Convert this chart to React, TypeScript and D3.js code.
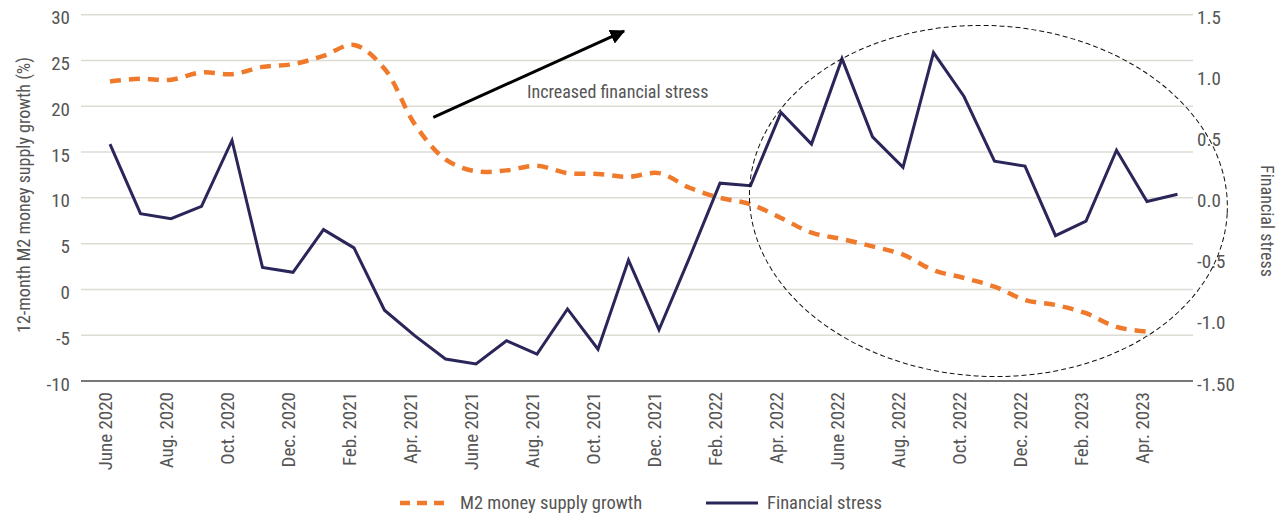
import * as d3 from "d3";

const WIDTH = 1278;
const HEIGHT = 516;
const PLOT = { left: 81, right: 1193, top: 14.7, bottom: 381 };
const FIRST_X = 110;
const LAST_X = 1177.5;

const FONT = "'Liberation Sans Narrow', 'Roboto Condensed', 'Arial Narrow', Roboto, sans-serif";
const TEXT = "#555555";
const ORANGE = "#ef7a2c";
const NAVY = "#2a2659";
const GRID = "#dcdcd4";

const months = [
  "June 2020", "July 2020", "Aug. 2020", "Sept. 2020", "Oct. 2020", "Nov. 2020",
  "Dec. 2020", "Jan. 2021", "Feb. 2021", "Mar. 2021", "Apr. 2021", "May 2021",
  "June 2021", "July 2021", "Aug. 2021", "Sept. 2021", "Oct. 2021", "Nov. 2021",
  "Dec. 2021", "Jan. 2022", "Feb. 2022", "Mar. 2022", "Apr. 2022", "May 2022",
  "June 2022", "July 2022", "Aug. 2022", "Sept. 2022", "Oct. 2022", "Nov. 2022",
  "Dec. 2022", "Jan. 2023", "Feb. 2023", "Mar. 2023", "Apr. 2023", "May 2023",
];

// 12-month M2 growth (%), left axis
const m2Growth = [
  22.7, 23.0, 22.9, 23.7, 23.5, 24.3, 24.6, 25.5, 26.7, 24.1, 18.0, 14.2,
  12.9, 13.0, 13.5, 12.7, 12.6, 12.3, 12.7, 11.1, 10.0, 9.3, 7.8, 6.2,
  5.5, 4.7, 3.8, 2.1, 1.25, 0.3, -1.15, -1.7, -2.6, -4.1, -4.6,
];

// Financial stress index, right axis
const financialStress = [
  0.44, -0.13, -0.17, -0.07, 0.47, -0.57, -0.61, -0.26, -0.41, -0.92, -1.13, -1.32,
  -1.36, -1.17, -1.28, -0.91, -1.24, -0.51, -1.08, -0.49, 0.12, 0.1, 0.7, 0.44,
  1.14, 0.5, 0.25, 1.19, 0.83, 0.3, 0.26, -0.31, -0.19, 0.39, -0.03, 0.03,
];

const leftTicks = [30, 25, 20, 15, 10, 5, 0, -5, -10];
const rightTicks = [1.5, 1.0, 0.5, 0.0, -0.5, -1.0, -1.5];
const rightTickLabels = ["1.5", "1.0", "0.5", "0.0", "-0.5", "-1.0", "-1.50"];

// annotation anchors in data space (month index, left-axis value)
const arrowFrom = { i: 10.6, v: 18.8 };
const arrowTo = { i: 16.85, v: 28.2 };
const noteAt = { i: 13.67, v: 20.9 };
const circleAt = { i: 28.8, v: 9.66, ri: 7.84, rv: 19.15 };

export default function App() {
  const x = d3.scaleLinear().domain([0, months.length - 1]).range([FIRST_X, LAST_X]);
  const yLeft = d3.scaleLinear().domain([-10, 30]).range([PLOT.bottom, PLOT.top]);
  const yRight = d3.scaleLinear().domain([-1.5, 1.5]).range([PLOT.bottom, PLOT.top]);

  const m2Line = d3
    .line<number>()
    .x((_, i) => x(i))
    .y((d) => yLeft(d))
    .curve(d3.curveCatmullRom.alpha(0.5));

  const stressLine = d3
    .line<number>()
    .x((_, i) => x(i))
    .y((d) => yRight(d));

  const ax1 = x(arrowFrom.i);
  const ay1 = yLeft(arrowFrom.v);
  const ax2 = x(arrowTo.i);
  const ay2 = yLeft(arrowTo.v);

  const cx = x(circleAt.i);
  const cy = yLeft(circleAt.v);
  const rx = x(circleAt.ri) - x(0);
  const ry = yLeft(0) - yLeft(circleAt.rv);

  return (
    <div style={{ position: "absolute", left: 0, top: 0 }}>
      <svg width={WIDTH} height={HEIGHT} style={{ display: "block", fontFamily: FONT }}>
        <defs>
          <marker id="arrowHead" viewBox="0 0 10 10" refX="9" refY="5" markerWidth="5" markerHeight="5" orient="auto">
            <path d="M0,0 L10,5 L0,10 z" fill="#000" />
          </marker>
        </defs>

        {/* gridlines */}
        {leftTicks.slice(0, -1).map((t) => (
          <line key={t} x1={PLOT.left} x2={PLOT.right} y1={yLeft(t)} y2={yLeft(t)} stroke={GRID} strokeWidth={1.5} />
        ))}
        <line x1={PLOT.left} x2={PLOT.right} y1={yLeft(-10)} y2={yLeft(-10)} stroke="#4a4a4a" strokeWidth={1.5} />

        {/* left axis labels */}
        {leftTicks.map((t) => (
          <text key={t} x={70} y={yLeft(t)} dy="0.5em" textAnchor="end" fontSize={19} fill={TEXT}>
            {t}
          </text>
        ))}

        {/* right axis labels */}
        {rightTicks.map((t, k) => (
          <text key={t} x={1197} y={yRight(t)} dy="0.5em" textAnchor="start" fontSize={19} fill={TEXT}>
            {rightTickLabels[k]}
          </text>
        ))}

        {/* x labels */}
        {months.map((m, i) =>
          i % 2 === 0 ? (
            <text
              key={m}
              transform={`translate(${x(i) - 5},392) rotate(-90)`}
              dy="0.35em"
              textAnchor="end"
              fontSize={19}
              fill={TEXT}
            >
              {m}
            </text>
          ) : null
        )}

        {/* axis titles */}
        <text transform={`translate(24,195) rotate(-90)`} dy="0.35em" textAnchor="middle" fontSize={18} fill={TEXT}>
          12-month M2 money supply growth (%)
        </text>
        <text transform={`translate(1267,221) rotate(90)`} dy="0.35em" textAnchor="middle" fontSize={18} fill={TEXT}>
          Financial stress
        </text>

        {/* series */}
        <path d={m2Line(m2Growth) ?? ""} fill="none" stroke={ORANGE} strokeWidth={4.5} strokeDasharray="11 8" />
        <path d={stressLine(financialStress) ?? ""} fill="none" stroke={NAVY} strokeWidth={3} strokeLinejoin="miter" />

        {/* annotations */}
        <ellipse
          cx={cx}
          cy={cy}
          rx={rx}
          ry={ry}
          fill="none"
          stroke="#111"
          strokeWidth={1}
          strokeDasharray="5 3"
          transform={`rotate(3 ${cx} ${cy})`}
        />
        <line x1={ax1} y1={ay1} x2={ax2} y2={ay2} stroke="#000" strokeWidth={3} markerEnd="url(#arrowHead)" />
        <text x={x(noteAt.i)} y={yLeft(noteAt.v)} fontSize={18} fill={TEXT}>
          Increased financial stress
        </text>

        {/* legend */}
        <line x1={400} x2={448} y1={503} y2={503} stroke={ORANGE} strokeWidth={4.5} strokeDasharray="10 7" />
        <text x={460} y={503} dy="0.35em" fontSize={18.5} fill={TEXT}>
          M2 money supply growth
        </text>
        <line x1={706} x2={758} y1={503} y2={503} stroke={NAVY} strokeWidth={3} />
        <text x={767} y={503} dy="0.35em" fontSize={18.5} fill={TEXT}>
          Financial stress
        </text>
      </svg>
    </div>
  );
}
